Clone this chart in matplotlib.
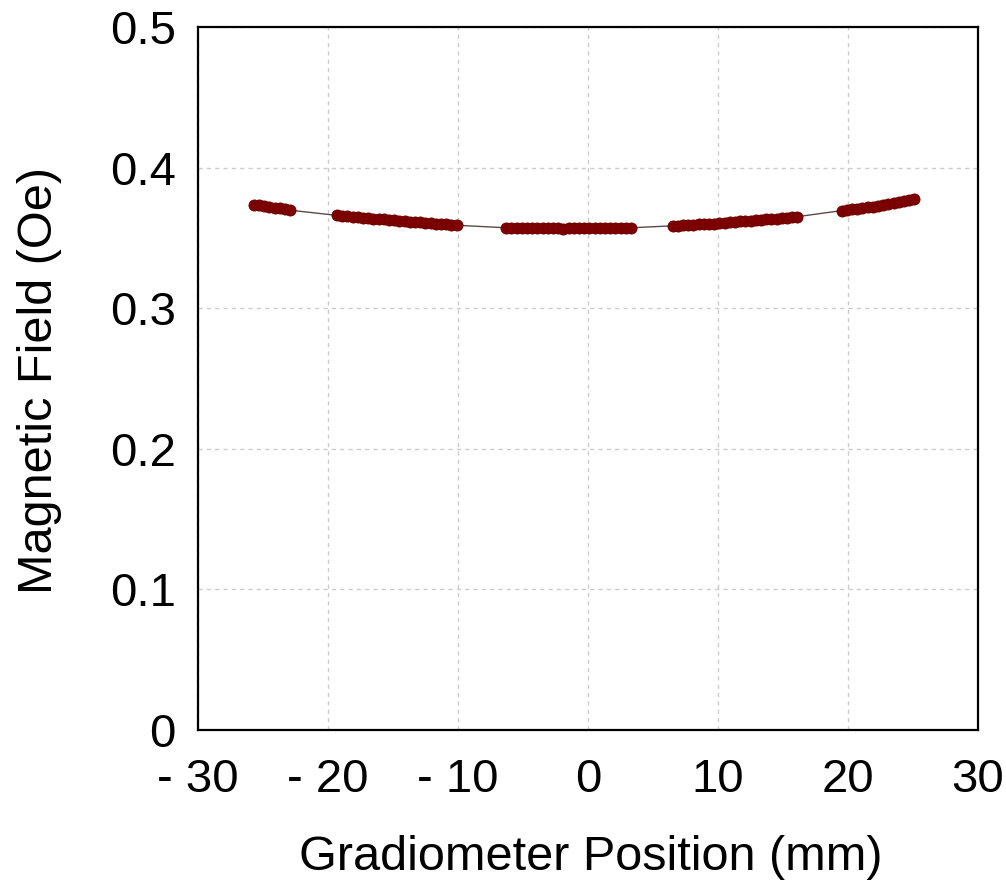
import matplotlib
matplotlib.use("Agg")
import matplotlib.pyplot as plt

plt.rcParams['font.family'] = ['Liberation Sans', 'DejaVu Sans']

# Gradiometer scan positions (mm) and measured field (Oe)
pos_a = [-25.7, -25.3, -24.9, -24.5, -24.1, -23.7, -23.3, -22.9]
field_a = [0.3737, 0.3731, 0.3727, 0.3722, 0.3715, 0.3710, 0.3703, 0.3697]

pos_b = [-19.3, -18.9, -18.5, -18.1, -17.7, -17.3, -16.9, -16.5, -16.1, -15.7,
         -15.3, -14.9, -14.5, -14.1, -13.7, -13.3, -12.9, -12.5, -12.1, -11.7,
         -11.3, -10.9, -10.5, -10.1]
field_b = [0.3660, 0.3656, 0.3653, 0.3650, 0.3647, 0.3644, 0.3641, 0.3637,
           0.3634, 0.3631, 0.3628, 0.3625, 0.3622, 0.3619, 0.3616, 0.3613,
           0.3610, 0.3607, 0.3604, 0.3601, 0.3598, 0.3596, 0.3593, 0.3590]

pos_c = [-6.3, -5.9, -5.5, -5.1, -4.7, -4.3, -3.9, -3.5, -3.1, -2.7, -2.3, -1.9,
         -1.5, -1.1, -0.7, -0.3, 0.1, 0.5, 0.9, 1.3, 1.7, 2.1, 2.5, 2.9, 3.3]
field_c = [0.3572, 0.3572, 0.3571, 0.3571, 0.3571, 0.3570, 0.3570, 0.3570,
           0.3570, 0.3569, 0.3569, 0.3562, 0.3569, 0.3570, 0.3570, 0.3570,
           0.3570, 0.3570, 0.3570, 0.3571, 0.3571, 0.3571, 0.3571, 0.3572,
           0.3572]

pos_d = [6.5, 6.9, 7.3, 7.7, 8.1, 8.5, 8.9, 9.3, 9.7, 10.1, 10.5, 10.9, 11.3,
         11.7, 12.1, 12.5, 12.9, 13.3, 13.7, 14.1, 14.5, 14.9, 15.3, 15.7, 16.1]
field_d = [0.3586, 0.3588, 0.3590, 0.3592, 0.3594, 0.3596, 0.3598, 0.3600,
           0.3602, 0.3605, 0.3608, 0.3612, 0.3614, 0.3617, 0.3620, 0.3623,
           0.3626, 0.3629, 0.3632, 0.3635, 0.3638, 0.3641, 0.3644, 0.3647,
           0.3651]

pos_e = [19.5, 19.9, 20.3, 20.7, 21.1, 21.5, 21.9, 22.3, 22.7, 23.1, 23.5,
         23.9, 24.3, 24.7, 25.1]
field_e = [0.3694, 0.3700, 0.3704, 0.3707, 0.3712, 0.3718, 0.3723, 0.3728,
           0.3734, 0.3740, 0.3746, 0.3752, 0.3760, 0.3768, 0.3777]

positions = pos_a + pos_b + pos_c + pos_d + pos_e
fields = field_a + field_b + field_c + field_d + field_e

x_ticks = [-30, -20, -10, 0, 10, 20, 30]
x_tick_labels = ['- 30', '- 20', '- 10', '0', '10', '20', '30']
y_ticks = [0, 0.1, 0.2, 0.3, 0.4, 0.5]
y_tick_labels = ['0', '0.1', '0.2', '0.3', '0.4', '0.5']

fig = plt.figure(figsize=(10.06, 8.89), dpi=100)
ax = fig.add_axes([0.1968, 0.1789, 0.7754, 0.7907])

ax.plot(positions, fields, color='#5a4a4a', linewidth=1.0, zorder=2)
ax.plot(positions, fields, linestyle='none', marker='o', markersize=8,
        markerfacecolor='#7f0000', markeredgecolor='#6a0000',
        markeredgewidth=0.6, zorder=3)

ax.set_xlim(-30, 30)
ax.set_ylim(0, 0.5)
ax.set_xticks(x_ticks)
ax.set_xticklabels(x_tick_labels)
ax.set_yticks(y_ticks)
ax.set_yticklabels(y_tick_labels)

ax.grid(True, color='#cccccc', linestyle=(0, (3, 3)), linewidth=1.0)
ax.set_axisbelow(True)

for side in ['left', 'bottom', 'top', 'right']:
    ax.spines[side].set_linewidth(1.6)
    ax.spines[side].set_color('black')

ax.tick_params(axis='both', length=0, labelsize=34)
ax.tick_params(axis='x', pad=20)
ax.tick_params(axis='y', pad=16)

fig.text(0.5875, 1 - 858 / 889, 'Gradiometer Position (mm)', fontsize=35,
         ha='center', va='center')
fig.text(40 / 1006, 1 - 380 / 889, 'Magnetic Field (Oe)', fontsize=35,
         ha='center', va='center', rotation=90)

fig.savefig('out.png', dpi=100)
